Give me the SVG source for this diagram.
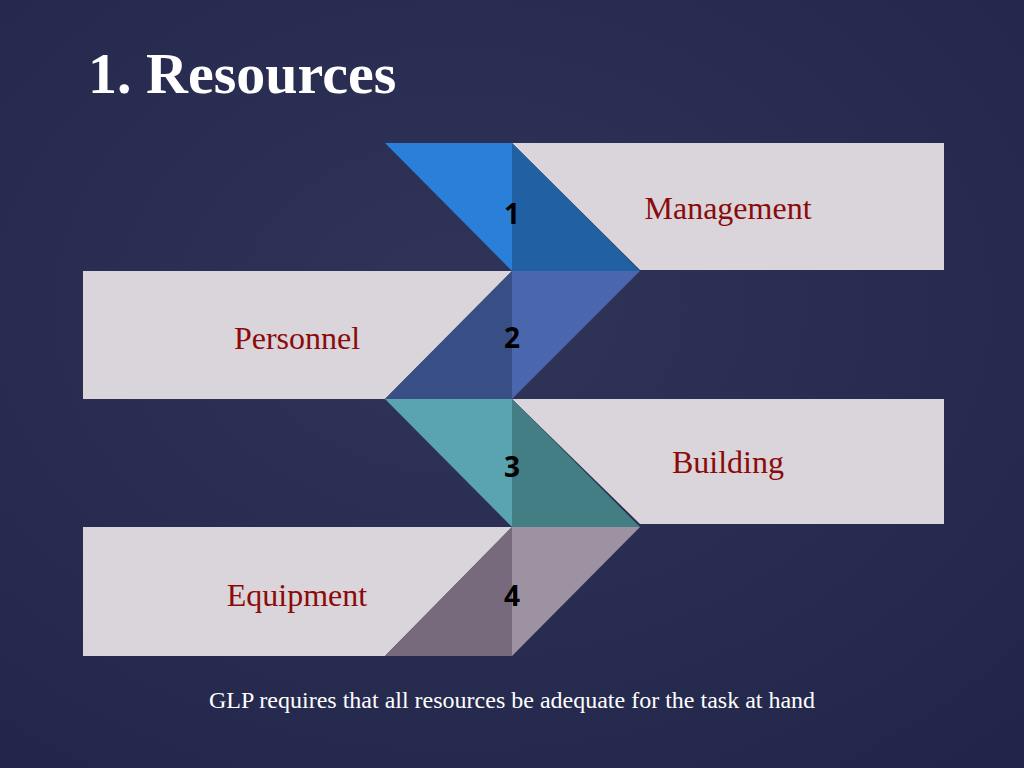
<svg xmlns="http://www.w3.org/2000/svg" width="1024" height="768" viewBox="0 0 1024 768">
<defs>
<radialGradient id="bg" cx="0.45" cy="0.4" r="0.8">
<stop offset="0" stop-color="#303458"/>
<stop offset="1" stop-color="#22254a"/>
</radialGradient>
</defs>
<style>
.box{fill:#d9d5da}
.lab{font-family:"Liberation Serif",serif;font-size:32px;fill:#8b0a0a;text-anchor:middle}
.num{font-family:"Open Sans","DejaVu Sans",sans-serif;font-weight:bold;font-size:28px;fill:#000;text-anchor:middle}
</style>
<rect width="1024" height="768" fill="url(#bg)"/>
<text x="88" y="93" font-family="Liberation Serif,serif" font-weight="bold" font-size="58" fill="#fff">1. Resources</text>
<g id="node1">
<polygon class="box" points="512,143 944,143 944,270 640,270"/>
<polygon points="385,143 512,143 512,271" fill="#2a7fd8"/>
<polygon points="512,143 640,271 512,271" fill="#2060a3"/>
<text class="num" x="512" y="224">1</text>
<text class="lab" x="728" y="219">Management</text>
</g>
<g id="node2">
<polygon class="box" points="83,271 512,271 385,399 83,399"/>
<polygon points="512,271 512,399 385,399" fill="#384f85"/>
<polygon points="512,271 640,271 512,399" fill="#4a66ad"/>
<text class="num" x="512" y="348">2</text>
<text class="lab" x="297" y="349">Personnel</text>
</g>
<g id="node3">
<polygon class="box" points="512,399 944,399 944,524 640,524"/>
<polygon points="385,399 512,399 512,527" fill="#5aa3b0"/>
<polygon points="512,399 640,527 512,527" fill="#437e85"/>
<text class="num" x="512" y="477">3</text>
<text class="lab" x="728" y="473">Building</text>
</g>
<g id="node4">
<polygon class="box" points="83,527 512,527 385,656 83,656"/>
<polygon points="512,527 512,656 385,656" fill="#766a7c"/>
<polygon points="512,527 640,527 512,656" fill="#9d92a2"/>
<text class="num" x="512" y="606">4</text>
<text class="lab" x="297" y="606">Equipment</text>
</g>
<g id="connectors"/>
<text x="512" y="708" font-family="Liberation Serif,serif" font-size="24" fill="#fff" text-anchor="middle">GLP requires that all resources be adequate for the task at hand</text>
</svg>
